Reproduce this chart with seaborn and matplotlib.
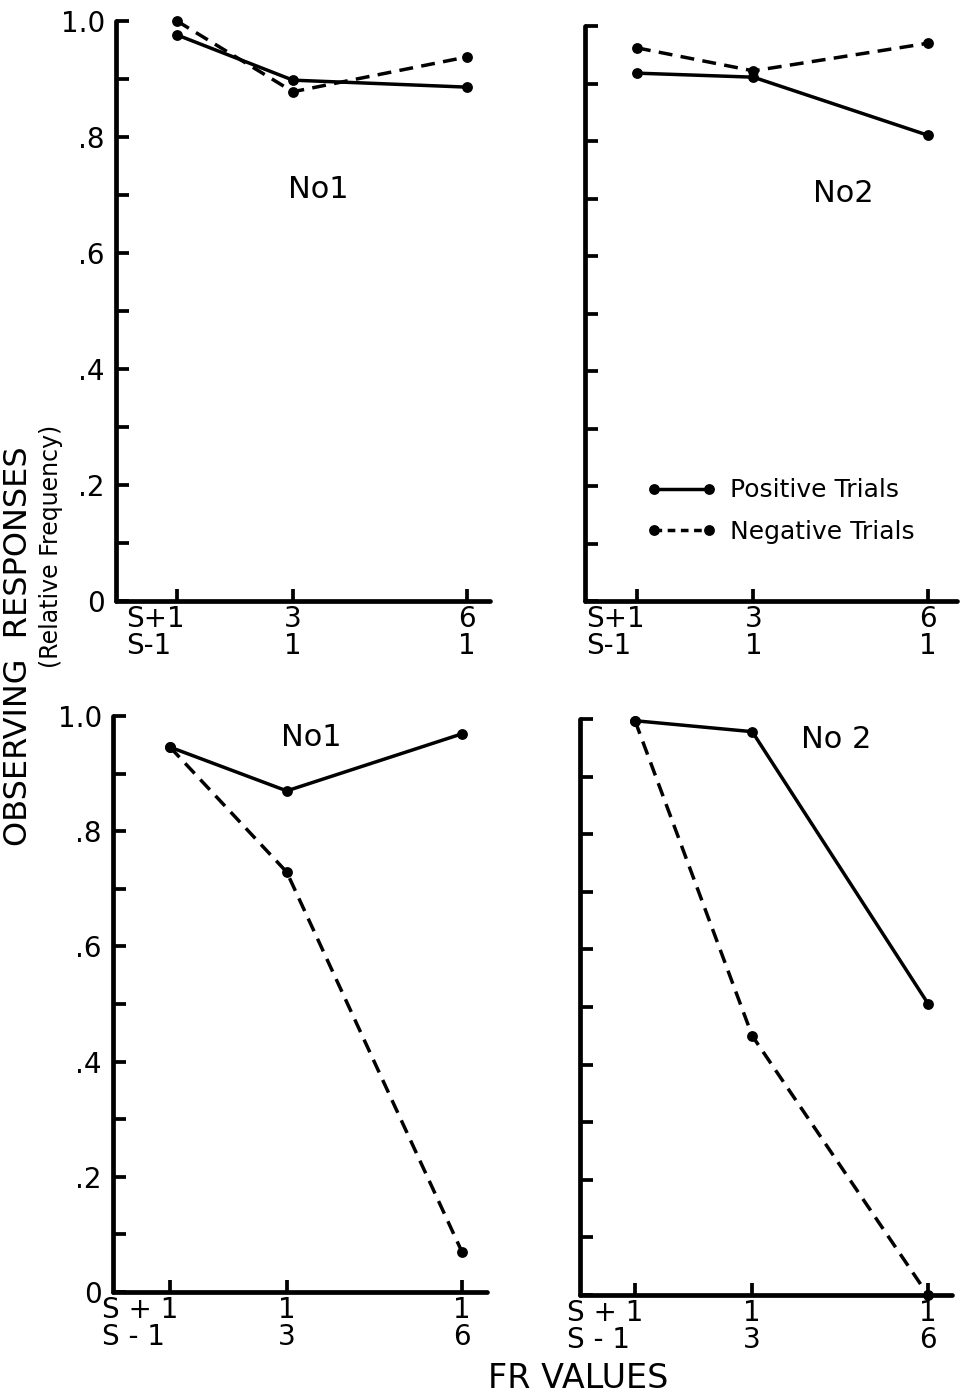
import numpy as np
import pandas as pd
import matplotlib
matplotlib.use("Agg")
import matplotlib.pyplot as plt
import matplotlib.transforms as mtransforms
from matplotlib.lines import Line2D
import seaborn as sns

# FR values (x positions) and tick labels
fr_values = [1, 3, 6]
top_xlabels = ["S+1\nS-1", "3\n1", "6\n1"]
bottom_xlabels = ["S + 1\nS - 1", "1\n3", "1\n6"]

# relative frequency of observing responses
top_no1_pos = [0.976, 0.898, 0.886]
top_no1_neg = [1.000, 0.878, 0.938]
top_no2_pos = [0.918, 0.911, 0.810]
top_no2_neg = [0.962, 0.922, 0.970]
bot_no1_pos = [0.946, 0.870, 0.969]
bot_no1_neg = [0.946, 0.729, 0.070]
bot_no2_pos = [0.997, 0.978, 0.506]
bot_no2_neg = [0.997, 0.450, 0.000]

titles = ["No1", "No2", "No1", "No 2"]
ytick_vals = [0.0, 0.1, 0.2, 0.3, 0.4, 0.5, 0.6, 0.7, 0.8, 0.9, 1.0]
ytick_text = ["0", "", ".2", "", ".4", "", ".6", "", ".8", "", "1.0"]

W, H = 975, 1394
sns.set_style("ticks")
plt.rcParams['font.family'] = ['DejaVu Sans']
plt.rcParams.update({
    "text.color": "black", "axes.edgecolor": "black",
    "xtick.color": "black", "ytick.color": "black", "axes.labelcolor": "black",
})

fig = plt.figure(figsize=(W / 100, H / 100), dpi=100)

# panel layout in pixels: left, right, top(1.0), bottom(0), xlim, title position
panels = [
    dict(px=(116, 490, 21, 601), xlim=(-0.052, 6.40), pos=top_no1_pos, neg=top_no1_neg,
         xl=top_xlabels, ylab=True, title_xy=(318, 190)),
    dict(px=(585, 957, 26, 601), xlim=(0.107, 6.50), pos=top_no2_pos, neg=top_no2_neg,
         xl=top_xlabels, ylab=False, title_xy=(843, 193)),
    dict(px=(113, 487, 716, 1292), xlim=(0.024, 6.43), pos=bot_no1_pos, neg=bot_no1_neg,
         xl=bottom_xlabels, ylab=True, title_xy=(311, 737)),
    dict(px=(580, 952, 719, 1295), xlim=(0.061, 6.41), pos=bot_no2_pos, neg=bot_no2_neg,
         xl=bottom_xlabels, ylab=False, title_xy=(836, 740)),
]

dash_neg = (4, 2.4)

for i, p in enumerate(panels):
    l, r, t, b = p["px"]
    ax = fig.add_axes([l / W, (H - b) / H, (r - l) / W, (b - t) / H])
    df = pd.DataFrame({
        "fr": fr_values * 2,
        "value": p["pos"] + p["neg"],
        "trial": ["Positive"] * 3 + ["Negative"] * 3,
    })
    sns.lineplot(data=df, x="fr", y="value", style="trial", ax=ax,
                 color="black", lw=2.5,
                 dashes={"Positive": "", "Negative": dash_neg},
                 markers={"Positive": "o", "Negative": "o"},
                 markersize=7.8, markeredgewidth=0, legend=False)
    for ln in ax.lines:
        ln.set_clip_on(False)

    ax.set_xlim(*p["xlim"])
    ax.set_ylim(0, 1.0)
    sns.despine(ax=ax)
    for s in ["left", "bottom"]:
        ax.spines[s].set_linewidth(3.4)
        ax.spines[s].set_capstyle("round")

    ax.set_yticks(ytick_vals)
    if p["ylab"]:
        ax.set_yticklabels(ytick_text)
    else:
        ax.set_yticklabels([])
    ax.set_xticks(fr_values)
    ax.set_xticklabels(p["xl"], linespacing=0.95)
    ax.tick_params(axis="both", direction="in", length=9, width=2.7,
                   labelsize=20, colors="black")
    ax.tick_params(axis="y", pad=8)
    ax.tick_params(axis="x", pad=3)

    # first x label: keep the "1" under the tick, prefix hangs to the left
    first = ax.get_xticklabels()[0]
    first.set_horizontalalignment("right")
    first.set_multialignment("left")
    first.set_transform(first.get_transform() +
                        mtransforms.ScaledTranslation(8 / 100, 0, fig.dpi_scale_trans))

    ax.set_xlabel("")
    ax.set_ylabel("")
    tx, ty = p["title_xy"]
    fig.text(tx / W, 1 - ty / H, titles[i], fontsize=22, ha="center", va="center")

    if i == 1:
        handles = [
            Line2D([], [], color="black", lw=2.5, marker="o", markersize=7.8,
                   markeredgewidth=0),
            Line2D([], [], color="black", lw=2.5, marker="o", markersize=7.8,
                   markeredgewidth=0, dashes=(2.2, 1.6)),
        ]
        ax.legend(handles, ["Positive Trials", "Negative Trials"],
                  loc="upper left", bbox_to_anchor=(634 / W, 1 - 466 / H),
                  bbox_transform=fig.transFigure, frameon=False, numpoints=2,
                  handlelength=2.8, handletextpad=0.55, labelspacing=0.7,
                  borderpad=0, fontsize=18)

fig.text(19 / W, 1 - 646 / H, "OBSERVING  RESPONSES", rotation=90, fontsize=23,
         ha="center", va="center")
fig.text(51 / W, 1 - 546 / H, "(Relative Frequency)", rotation=90, fontsize=17,
         ha="center", va="center")
fig.text(578 / W, 1 - 1378 / H, "FR VALUES", fontsize=24, ha="center", va="center")

fig.savefig("out.png", dpi=100, facecolor="white")
